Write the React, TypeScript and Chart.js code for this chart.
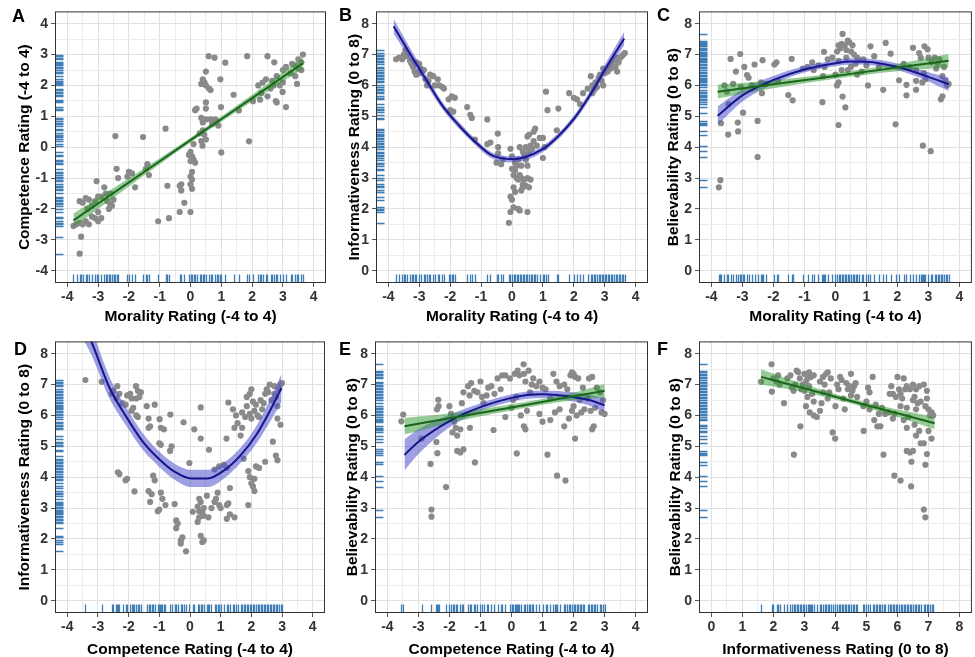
import React, { useEffect, useRef } from 'react';
import { Chart, registerables } from 'chart.js';

Chart.register(...registerables);

// ------------------------- tick labels -------------------------
const moralityTicks = [-4, -3, -2, -1, 0, 1, 2, 3, 4];
const competenceTicks = [-4, -3, -2, -1, 0, 1, 2, 3, 4];
const ratingTicks = [0, 1, 2, 3, 4, 5, 6, 7, 8];

// ------------------------- panel A: morality vs competence -------------------------
const panelAPoints: [number, number][] = [
  [3.65, 3.0], [3.5, 2.85], [3.3, 2.7], [3.1, 2.6], [3.0, 2.5], [2.72, 2.75], [2.5, 2.95], [3.6, 2.5],
  [3.5, 2.55], [3.4, 2.3], [3.46, 2.05], [3.0, 2.1], [2.99, 1.79], [3.1, 1.3], [2.8, 1.45], [2.77, 1.49],
  [2.26, 1.54], [2.03, 1.49], [2.3, 1.75], [2.5, 1.65], [2.6, 1.9], [2.7, 2.0], [2.9, 2.0], [2.34, 2.09],
  [2.2, 2.0], [2.45, 2.2], [2.65, 2.15], [2.8, 2.3], [3.25, 2.4], [3.4, 2.65], [3.6, 2.75], [1.84, 2.95],
  [1.9, 0.19], [1.4, 1.7], [1.57, 1.19], [1.13, 2.74], [0.97, 2.2], [0.99, 1.3], [1.0, -0.17], [0.59, 2.95],
  [0.78, 2.9], [0.5, 2.45], [0.45, 2.1], [0.5, 2.0], [0.35, 2.05], [0.4, 2.2], [0.6, 1.9], [0.65, 1.85],
  [0.5, 1.45], [0.5, 1.25], [0.2, 1.25], [0.15, 1.2], [0.35, 0.95], [0.4, 0.8], [0.5, 0.9], [0.65, 0.9],
  [0.7, 0.75], [0.8, 0.9], [0.85, 0.85], [0.9, 0.7], [0.4, 0.55], [0.3, 0.45], [0.45, 0.4], [0.5, 0.25],
  [0.35, 0.2], [0.39, 0.05], [0.1, 0.1], [0.0, -0.15], [-0.05, -0.25], [0.05, -0.3], [0.0, -0.45], [0.1, -0.4],
  [0.15, -0.5], [0.05, -0.8], [0.0, -0.95], [0.05, -1.05], [0.0, -1.2], [0.05, -1.35], [-0.3, -1.2], [-0.35, -1.25],
  [-0.3, -1.4], [-0.2, -1.8], [-0.35, -2.1], [0.0, -2.1], [-0.75, -1.25], [-0.7, -2.3], [-1.05, -2.4], [-0.81, 0.6],
  [-1.54, 0.33], [-2.44, 0.36], [-1.4, -0.55], [-1.45, -0.7], [-1.35, -0.9], [-1.9, -0.85], [-2.0, -0.8], [-2.05, -0.95],
  [-1.8, -1.3], [-2.4, -0.7], [-2.35, -1.0], [-2.6, -1.5], [-2.5, -1.7], [-2.6, -1.85], [-2.65, -2.0], [-2.8, -1.3],
  [-2.75, -1.5], [-2.9, -1.6], [-3.0, -1.6], [-3.05, -1.1], [-3.1, -1.75], [-3.2, -1.9], [-3.3, -1.7], [-3.4, -1.65],
  [-3.5, -1.8], [-3.6, -1.75], [-3.0, -2.1], [-3.1, -2.3], [-3.0, -2.4], [-2.9, -2.3], [-3.2, -2.25], [-3.4, -2.4],
  [-3.5, -2.5], [-3.6, -2.45], [-3.7, -2.5], [-3.8, -2.55], [-3.3, -2.5], [-3.55, -2.9], [-3.6, -3.45], [-3.35, -2.0],
  [-2.7, -1.75], [-2.55, -1.9],
];
const panelALinearX = [-3.8, -2, 0, 2, 3.65];
const panelALinearY = [-2.37, -1.14, 0.23, 1.59, 2.72];
const panelALinearLo = [-2.59, -1.27, 0.15, 1.48, 2.53];
const panelALinearHi = [-2.15, -1.01, 0.31, 1.7, 2.91];

// ------------------------- panel B: morality vs informativeness -------------------------
const panelBPoints: [number, number][] = [
  [-3.75, 6.85], [-3.65, 6.9], [-3.55, 6.85], [-3.5, 7.0], [-3.45, 7.15], [-3.4, 6.95], [-3.3, 6.8], [-3.25, 6.7],
  [-3.2, 6.6], [-3.1, 6.75], [-3.0, 6.7], [-3.15, 6.45], [-3.1, 6.35], [-3.0, 6.4], [-2.95, 6.55], [-2.85, 6.5],
  [-2.8, 6.2], [-2.7, 6.15], [-2.75, 6.0], [-2.65, 6.35], [-2.55, 6.3], [-2.5, 6.0], [-2.4, 6.2], [-2.35, 6.0],
  [-2.25, 5.95], [-2.2, 5.9], [-2.05, 5.55], [-1.95, 5.65], [-1.85, 5.6], [-2.0, 5.2], [-1.9, 5.15], [-1.45, 5.3],
  [-1.35, 5.05], [-1.3, 4.95], [-0.8, 4.9], [-0.8, 4.1], [-0.7, 4.15], [-1.2, 4.25], [-0.46, 4.44], [-0.45, 4.0],
  [-0.45, 3.8], [-0.5, 3.5], [-0.3, 3.6], [-0.35, 3.45],
  [-0.05, 3.95], [0.0, 3.7], [0.1, 3.5], [0.2, 3.6], [0.25, 4.0], [0.35, 3.85], [0.4, 3.75], [0.45, 3.6],
  [0.5, 3.4], [0.55, 3.85], [0.45, 4.0], [0.6, 4.05], [0.65, 3.95], [0.5, 4.35], [0.55, 4.4], [0.7, 4.5],
  [0.7, 4.2], [0.75, 4.6], [0.8, 4.05], [0.9, 4.3], [1.0, 4.3], [1.0, 3.65], [1.1, 5.8], [1.15, 5.2],
  [1.5, 5.25], [1.45, 4.55], [1.05, 4.0],
  [0.0, 3.3], [0.05, 3.1], [0.1, 3.25], [0.15, 3.0], [0.2, 2.95], [0.25, 3.1], [0.3, 3.0], [0.35, 2.8],
  [0.4, 2.95], [0.45, 2.75], [0.5, 3.0], [0.55, 2.7], [0.6, 2.95], [0.15, 3.4], [0.3, 3.4], [0.05, 2.7],
  [0.1, 2.55], [-0.05, 2.4], [0.0, 2.3], [0.05, 2.05], [0.2, 2.0], [0.25, 1.95], [-0.05, 1.9], [0.5, 1.9],
  [-0.1, 1.55], [0.3, 2.6], [0.35, 2.7],
  [1.85, 5.75], [2.0, 5.6], [2.1, 5.55], [2.3, 5.75], [2.2, 5.4], [2.45, 5.9], [2.55, 6.3], [2.6, 6.0],
  [2.65, 5.85], [2.7, 6.1], [2.75, 5.95], [2.8, 6.25], [2.85, 6.35], [2.9, 6.15], [2.95, 6.0], [3.0, 6.4],
  [3.05, 6.5], [3.1, 6.45], [3.15, 6.6], [3.2, 6.55], [3.25, 6.7], [3.3, 6.8], [3.35, 6.6], [3.4, 6.45],
  [3.45, 6.75], [3.5, 6.9], [3.55, 6.95], [3.6, 7.0], [3.65, 7.05], [2.7, 5.9], [2.6, 5.75], [2.95, 6.55],
  [3.35, 6.9],
];
const panelBQuadX = [-3.83, -3.35, -2.81, -2.27, -1.73, -1.2, -0.66, 0.04, 0.95, 1.48, 2.02, 2.56, 3.1, 3.63];
const panelBQuadY = [7.92, 7.11, 6.24, 5.37, 4.72, 4.18, 3.74, 3.61, 3.91, 4.34, 4.94, 5.75, 6.67, 7.52];
const panelBQuadLo = [7.68, 6.92, 6.09, 5.25, 4.61, 4.08, 3.64, 3.51, 3.81, 4.24, 4.83, 5.62, 6.5, 7.3];
const panelBQuadHi = [8.16, 7.3, 6.39, 5.49, 4.83, 4.28, 3.84, 3.71, 4.01, 4.44, 5.05, 5.88, 6.84, 7.74];

// ------------------------- panel C: morality vs believability -------------------------
const panelCPoints: [number, number][] = [
  [-3.76, 2.7], [-3.71, 2.93], [-3.69, 4.78], [-3.46, 4.41], [-3.58, 6.0], [-3.45, 5.4], [-3.38, 6.86], [-3.07, 7.02],
  [-3.21, 6.45], [-2.85, 6.34], [-2.94, 6.6], [-2.98, 5.12], [-3.15, 4.8], [-3.14, 4.51], [-2.8, 6.25], [-2.7, 6.0],
  [-2.61, 6.68], [-2.51, 4.85], [-2.51, 3.68], [-2.37, 5.75], [-2.35, 6.82], [-2.25, 6.05], [-1.97, 6.68], [-1.9, 6.75],
  [-1.85, 6.15], [-1.52, 5.69], [-1.38, 5.52], [-1.41, 6.86], [-1.05, 6.55], [-0.9, 6.6], [-0.7, 6.5], [-0.55, 6.65],
  [-0.42, 5.46], [-0.4, 6.3], [-0.37, 7.09], [-0.25, 6.85], [-0.1, 6.9], [0.05, 7.1], [0.1, 7.3], [0.15, 7.2],
  [0.2, 7.35], [0.23, 7.67], [0.3, 7.3], [0.35, 7.15], [0.4, 7.45], [0.45, 7.4], [0.5, 7.1], [0.55, 7.3],
  [0.6, 7.0], [0.7, 6.9], [0.65, 6.7], [0.35, 6.9], [0.1, 6.8], [0.2, 6.5], [0.0, 6.35], [0.05, 6.0],
  [0.1, 6.1], [0.1, 4.72], [0.23, 5.64], [0.32, 5.29], [0.4, 6.5], [0.75, 6.85], [0.9, 6.85], [1.0, 6.65],
  [1.05, 6.0], [1.13, 7.27], [1.25, 6.95], [1.4, 6.6], [1.62, 7.38], [1.54, 5.86], [1.78, 7.03], [1.94, 4.74],
  [2.05, 6.17], [2.2, 6.7], [2.29, 5.68], [2.29, 6.02], [2.5, 7.22], [2.6, 6.15], [2.6, 5.86], [2.7, 7.05],
  [2.75, 6.9], [2.82, 4.05], [2.85, 6.4], [2.87, 7.27], [2.97, 7.17], [3.07, 3.87], [3.0, 6.9], [3.1, 6.75],
  [3.2, 6.9], [3.25, 6.55], [3.3, 6.7], [3.35, 6.85], [3.45, 6.3], [3.5, 6.6], [3.55, 6.15], [3.4, 5.55],
  [3.45, 5.65], [3.6, 6.0], [3.65, 6.05], [2.8, 6.1], [2.9, 6.2], [2.6, 6.5], [2.4, 6.6], [-0.75, 6.75],
  [-0.35, 6.6], [0.5, 6.6], [0.7, 6.35], [0.85, 6.45], [-3.5, 5.8], [-3.3, 6.05], [-3.05, 5.95], [-2.4, 6.1],
];
const panelCLinearX = [-3.8, -2, 0, 2, 3.65];
const panelCLinearY = [5.8, 6.04, 6.31, 6.58, 6.8];
const panelCLinearLo = [5.58, 5.91, 6.22, 6.46, 6.58];
const panelCLinearHi = [6.02, 6.17, 6.4, 6.7, 7.02];
const panelCQuadX = [-3.8, -3, -2, -1, 0, 0.5, 1, 2, 3, 3.65];
const panelCQuadY = [5.02, 5.68, 6.18, 6.52, 6.72, 6.78, 6.77, 6.6, 6.28, 6.04];
const panelCQuadLo = [4.72, 5.48, 6.05, 6.42, 6.62, 6.68, 6.67, 6.49, 6.13, 5.82];
const panelCQuadHi = [5.32, 5.88, 6.31, 6.62, 6.82, 6.88, 6.87, 6.71, 6.43, 6.26];

// ------------------------- panel D: competence vs informativeness -------------------------
const panelDPoints: [number, number][] = [
  [-3.41, 7.15], [-2.88, 7.09], [-2.5, 6.8], [-2.37, 6.95], [-2.55, 6.7], [-2.4, 6.55], [-2.3, 6.7], [-2.2, 6.4],
  [-2.1, 6.35], [-2.05, 6.65], [-1.95, 6.7], [-1.9, 6.55], [-1.76, 6.95], [-1.7, 6.8], [-1.6, 6.75], [-1.75, 6.55],
  [-1.65, 6.6], [-1.85, 6.25], [-1.75, 6.0], [-1.7, 5.95], [-1.9, 6.15], [-2.35, 4.16], [-2.3, 4.1], [-2.05, 3.95],
  [-2.1, 3.9], [-1.81, 3.54], [-1.41, 6.3], [-1.35, 5.9], [-1.3, 5.65], [-1.35, 5.6], [-1.15, 6.35], [-0.99, 5.88],
  [-0.95, 5.6], [-0.85, 5.55], [-0.64, 6.03], [-1.0, 5.1], [-0.95, 5.05], [-0.6, 5.0], [-0.65, 4.85], [-1.35, 3.55],
  [-1.3, 3.2], [-1.25, 3.45], [-1.2, 4.05], [-1.15, 3.9], [-0.95, 3.5], [-0.9, 3.3], [-0.8, 3.1], [-1.0, 2.95],
  [-1.05, 2.9], [-0.5, 3.13], [-0.4, 2.5], [-0.45, 2.35], [-0.45, 2.6], [-0.3, 1.95], [-0.25, 2.05], [-0.3, 1.85],
  [-0.13, 1.6], [-0.21, 5.78], [-0.02, 4.46], [0.09, 2.88], [0.14, 5.55], [0.35, 5.25], [0.35, 6.26], [0.3, 3.3],
  [0.35, 3.2], [0.25, 3.05], [0.3, 2.9], [0.4, 2.85], [0.45, 2.75], [0.3, 2.7], [0.25, 2.55], [0.45, 3.0],
  [0.35, 2.1], [0.45, 1.95], [0.4, 1.9], [0.62, 4.89], [0.55, 3.4], [0.7, 3.0], [0.6, 2.7], [0.8, 3.2],
  [0.9, 3.5], [0.95, 3.1], [1.0, 3.0], [0.85, 3.3], [0.8, 4.25], [0.95, 4.35], [1.1, 4.4], [1.2, 4.3],
  [1.19, 5.25], [1.25, 6.42], [1.3, 3.65], [1.25, 3.15], [1.2, 3.1], [1.3, 2.8], [1.2, 2.65], [1.45, 2.7],
  [1.4, 6.2], [1.5, 6.0], [1.45, 5.6], [1.55, 5.75], [1.65, 5.35], [1.7, 5.6], [1.7, 6.1], [1.8, 5.95],
  [1.85, 6.3], [1.85, 6.6], [1.95, 6.7], [2.0, 6.85], [2.05, 6.45], [1.95, 6.05], [2.0, 5.9], [2.1, 6.15],
  [2.15, 6.35], [2.2, 6.0], [2.25, 5.95], [2.3, 6.5], [2.4, 6.4], [2.35, 6.2], [2.45, 6.7], [2.5, 6.85],
  [2.55, 6.75], [2.6, 7.0], [2.65, 6.5], [2.75, 6.7], [2.8, 6.6], [2.85, 6.3], [2.95, 7.0], [3.0, 7.05],
  [2.9, 6.85], [2.75, 6.95], [1.75, 4.6], [1.9, 4.2], [1.95, 4.0], [2.0, 3.8], [2.05, 3.7], [2.1, 3.55],
  [2.1, 3.95], [1.9, 3.1], [2.15, 4.35], [2.25, 4.3], [2.45, 4.5], [2.7, 5.15], [2.8, 4.7], [2.85, 4.55],
  [2.95, 5.7], [2.85, 5.9],
];
const panelDQuadX = [-3.44, -3.21, -2.62, -2.09, -1.56, -1.02, -0.49, 0.04, 0.58, 1.11, 1.64, 2.18, 2.6, 2.98];
const panelDQuadY = [8.85, 8.38, 6.89, 5.98, 5.18, 4.6, 4.17, 3.96, 3.96, 4.22, 4.7, 5.4, 6.14, 6.89];
const panelDQuadLo = [8.4, 7.96, 6.54, 5.68, 4.91, 4.35, 3.91, 3.68, 3.68, 3.96, 4.45, 5.12, 5.78, 6.44];
const panelDQuadHi = [9.3, 8.8, 7.24, 6.28, 5.45, 4.85, 4.43, 4.24, 4.24, 4.48, 4.95, 5.68, 6.5, 7.34];

// ------------------------- panel E: competence vs believability -------------------------
const panelEPoints: [number, number][] = [
  [-3.49, 6.03], [-3.55, 5.81], [-2.61, 4.43], [-2.58, 2.95], [-2.58, 2.72], [-2.36, 6.51], [-2.35, 6.3], [-2.4, 6.2],
  [-2.42, 5.14], [-2.39, 4.78], [-2.11, 3.68], [-2.0, 6.3], [-1.95, 6.05], [-1.85, 5.8], [-1.8, 5.6], [-1.9, 5.45],
  [-1.75, 5.35], [-1.65, 5.55], [-1.75, 4.85], [-1.65, 4.8], [-1.55, 4.9], [-1.6, 6.4], [-1.55, 6.75], [-1.4, 6.95],
  [-1.3, 7.05], [-1.35, 6.65], [-1.2, 6.8], [-1.1, 6.75], [-1.0, 7.1], [-0.95, 6.6], [-0.8, 6.65], [-0.75, 6.9],
  [-0.65, 6.95], [-0.55, 6.7], [-0.45, 7.2], [-0.3, 7.3], [-0.2, 7.3], [-0.05, 7.2], [0.1, 7.35], [0.2, 7.45],
  [0.25, 7.3], [0.39, 7.66], [0.4, 7.35], [0.45, 7.1], [0.55, 7.45], [0.65, 7.0], [0.7, 7.2], [0.8, 6.95],
  [0.9, 7.1], [1.0, 6.9], [1.1, 6.85], [-1.34, 5.6], [-1.18, 4.48], [-0.58, 5.53], [-0.2, 5.95], [0.0, 6.25],
  [0.05, 6.5], [0.3, 6.0], [0.4, 5.65], [0.45, 5.55], [0.5, 6.15], [0.17, 4.77], [1.16, 4.73], [1.25, 5.85],
  [1.4, 6.1], [1.55, 6.2], [1.35, 7.35], [1.45, 7.1], [1.55, 6.95], [1.7, 7.0], [1.8, 6.85], [1.47, 4.05],
  [1.74, 3.89], [1.7, 5.65], [1.85, 5.9], [1.95, 6.15], [2.0, 6.3], [2.05, 5.25], [2.1, 6.0], [2.2, 6.5],
  [2.25, 6.1], [2.35, 6.2], [2.45, 6.55], [2.55, 6.15], [2.6, 5.55], [2.65, 5.65], [2.7, 6.25], [1.9, 7.3],
  [1.95, 7.4], [2.0, 7.35], [2.05, 7.25], [2.15, 7.2], [2.3, 6.9], [2.5, 7.2], [2.6, 7.25], [2.75, 6.9],
  [2.85, 6.75], [2.95, 6.5], [3.0, 6.05], [2.9, 6.1], [1.0, 5.8], [0.9, 6.05], [-2.9, 5.25], [-0.9, 6.4],
  [0.15, 6.6], [0.6, 6.75], [1.25, 6.55], [-0.35, 6.85],
];
const panelELinearX = [-3.45, -2, 0, 2, 3.0];
const panelELinearY = [5.65, 5.91, 6.26, 6.62, 6.8];
const panelELinearLo = [5.38, 5.76, 6.16, 6.5, 6.58];
const panelELinearHi = [5.92, 6.06, 6.36, 6.74, 7.02];
const panelEQuadX = [-3.45, -3, -2, -1, 0, 0.5, 1, 2, 2.5, 3];
const panelEQuadY = [4.72, 5.15, 5.82, 6.27, 6.57, 6.66, 6.69, 6.6, 6.5, 6.33];
const panelEQuadLo = [4.22, 4.75, 5.62, 6.14, 6.45, 6.54, 6.57, 6.45, 6.32, 6.11];
const panelEQuadHi = [5.22, 5.55, 6.02, 6.4, 6.69, 6.78, 6.81, 6.75, 6.68, 6.55];

// ------------------------- panel F: informativeness vs believability -------------------------
const panelFPoints: [number, number][] = [
  [1.6, 7.09], [1.94, 7.66], [1.95, 6.77], [2.0, 7.2], [2.1, 7.1], [2.15, 7.3], [2.2, 7.0], [2.34, 6.4],
  [2.66, 4.73], [2.55, 7.3], [2.65, 6.8], [2.7, 7.0], [2.75, 7.45], [2.8, 7.4], [2.85, 7.2], [2.9, 6.85],
  [2.95, 7.0], [2.87, 5.65], [3.0, 7.35], [3.05, 7.1], [3.1, 7.2], [3.15, 7.4], [3.2, 7.25], [3.3, 7.3],
  [3.0, 6.8], [3.1, 6.6], [3.05, 6.3], [3.15, 6.95], [3.25, 6.7], [3.3, 6.45], [3.17, 6.1], [3.3, 6.0],
  [3.4, 5.95], [3.5, 6.15], [3.55, 6.4], [3.6, 6.75], [3.5, 7.1], [3.65, 7.0], [3.7, 7.35], [3.75, 7.4],
  [3.85, 7.2], [3.75, 6.55], [3.8, 6.75], [3.91, 5.45], [3.99, 5.25], [4.0, 6.3], [4.05, 7.0], [4.1, 6.85],
  [4.2, 7.15], [4.25, 6.55], [4.3, 6.2], [4.35, 7.05], [4.4, 6.85], [4.5, 7.35], [4.5, 6.65], [4.6, 6.95],
  [4.65, 7.05], [4.55, 6.8], [4.7, 6.6], [4.91, 5.5], [4.9, 6.3], [5.0, 6.45], [5.05, 6.9], [5.1, 6.75],
  [5.1, 6.2], [5.2, 7.25], [5.25, 5.85], [5.35, 5.65], [5.4, 6.05], [5.45, 5.65], [5.3, 6.35], [5.5, 6.25],
  [5.55, 4.73], [5.6, 6.05], [5.7, 6.1], [5.75, 6.7], [5.8, 6.95], [5.85, 6.7], [5.85, 5.9], [5.9, 6.05],
  [5.9, 4.05], [6.1, 3.89], [6.0, 7.25], [6.05, 6.85], [6.1, 6.3], [6.1, 6.7], [6.15, 6.55], [6.2, 7.2],
  [6.25, 6.85], [6.3, 6.25], [6.35, 5.95], [6.3, 5.6], [6.2, 5.85], [6.3, 4.85], [6.4, 4.8], [6.5, 4.85],
  [6.45, 4.5], [6.44, 3.7], [6.4, 6.85], [6.5, 6.5], [6.55, 6.6], [6.6, 6.2], [6.65, 6.4], [6.7, 6.95],
  [6.55, 5.7], [6.6, 5.35], [6.7, 5.5], [6.75, 5.1], [6.85, 5.1], [6.85, 7.0], [6.9, 6.3], [6.95, 6.8],
  [6.95, 6.55], [7.0, 6.2], [7.0, 5.5], [6.95, 4.75], [6.9, 4.4], [6.85, 2.95], [6.9, 2.7], [7.05, 6.0],
  [7.1, 5.25], [7.15, 6.0], [7.1, 6.1], [2.45, 7.2], [2.6, 6.9], [3.6, 7.25], [4.15, 7.25], [4.45, 6.95],
  [5.95, 6.6], [6.3, 6.95], [6.6, 6.85], [6.75, 6.45], [6.5, 7.0],
];
const panelFLinearX = [1.6, 3, 4.5, 6, 7.2];
const panelFLinearY = [7.25, 6.88, 6.47, 6.07, 5.75];
const panelFLinearLo = [7.0, 6.75, 6.39, 5.95, 5.55];
const panelFLinearHi = [7.5, 7.01, 6.55, 6.19, 5.95];

// ------------------------- styling -------------------------
const FONT = "'Liberation Sans', Arial, Helvetica, sans-serif";
const POINT_COLOR = '#8a8a8a';
const GREEN_LINE = '#1b661b';
const GREEN_BAND = 'rgba(46, 150, 46, 0.5)';
const BLUE_LINE = '#16168a';
const BLUE_BAND = 'rgba(80, 80, 205, 0.55)';
const RUG_COLOR = '#3f7db6';
const MAJOR_GRID = '#e0e0e0';
const MINOR_GRID = '#ececec';

type Fit = { x: number[]; y: number[]; lo: number[]; hi: number[]; line: string; band: string };
type PanelSpec = {
  letter: string;
  letterPos: [number, number];
  canvas: [number, number, number, number]; // left, top, width, height
  plot: [number, number, number, number]; // left, top, right, bottom
  xRange: [number, number];
  yRange: [number, number];
  xTicks: number[];
  yTicks: number[];
  xTitle: string;
  yTitle: string;
  xTitlePad: number;
  yTitlePad: number;
  points: [number, number][];
  fits: Fit[];
};

const panels: PanelSpec[] = [
  {
    letter: 'A', letterPos: [12, 7], canvas: [0, 0, 330, 330], plot: [55, 9, 326, 283],
    xRange: [-4.4, 4.4], yRange: [-4.4, 4.4], xTicks: moralityTicks, yTicks: competenceTicks,
    xTitle: 'Morality Rating (-4 to 4)', yTitle: 'Competence Rating (-4 to 4)', xTitlePad: 4, yTitlePad: 15,
    points: panelAPoints,
    fits: [{ x: panelALinearX, y: panelALinearY, lo: panelALinearLo, hi: panelALinearHi, line: GREEN_LINE, band: GREEN_BAND }],
  },
  {
    letter: 'B', letterPos: [339, 6], canvas: [330, 0, 322, 330], plot: [376, 9, 648, 283],
    xRange: [-4.4, 4.4], yRange: [-0.4, 8.4], xTicks: moralityTicks, yTicks: ratingTicks,
    xTitle: 'Morality Rating (-4 to 4)', yTitle: 'Informativeness Rating (0 to 8)', xTitlePad: 4, yTitlePad: 15,
    points: panelBPoints,
    fits: [{ x: panelBQuadX, y: panelBQuadY, lo: panelBQuadLo, hi: panelBQuadHi, line: BLUE_LINE, band: BLUE_BAND }],
  },
  {
    letter: 'C', letterPos: [657, 6], canvas: [652, 0, 323, 330], plot: [699, 9, 972, 283],
    xRange: [-4.4, 4.4], yRange: [-0.4, 8.4], xTicks: moralityTicks, yTicks: ratingTicks,
    xTitle: 'Morality Rating (-4 to 4)', yTitle: 'Believability Rating (0 to 8)', xTitlePad: 4, yTitlePad: 12,
    points: panelCPoints,
    fits: [
      { x: panelCLinearX, y: panelCLinearY, lo: panelCLinearLo, hi: panelCLinearHi, line: GREEN_LINE, band: GREEN_BAND },
      { x: panelCQuadX, y: panelCQuadY, lo: panelCQuadLo, hi: panelCQuadHi, line: BLUE_LINE, band: BLUE_BAND },
    ],
  },
  {
    letter: 'D', letterPos: [14, 340], canvas: [0, 330, 330, 340], plot: [55, 340, 325, 613],
    xRange: [-4.4, 4.4], yRange: [-0.4, 8.4], xTicks: competenceTicks, yTicks: ratingTicks,
    xTitle: 'Competence Rating (-4 to 4)', yTitle: 'Informativeness Rating (0 to 8)', xTitlePad: 10.5, yTitlePad: 15,
    points: panelDPoints,
    fits: [{ x: panelDQuadX, y: panelDQuadY, lo: panelDQuadLo, hi: panelDQuadHi, line: BLUE_LINE, band: BLUE_BAND }],
  },
  {
    letter: 'E', letterPos: [339, 340], canvas: [330, 330, 322, 340], plot: [375, 340, 648, 613],
    xRange: [-4.4, 4.4], yRange: [-0.4, 8.4], xTicks: competenceTicks, yTicks: ratingTicks,
    xTitle: 'Competence Rating (-4 to 4)', yTitle: 'Believability Rating (0 to 8)', xTitlePad: 10.5, yTitlePad: 13,
    points: panelEPoints,
    fits: [
      { x: panelELinearX, y: panelELinearY, lo: panelELinearLo, hi: panelELinearHi, line: GREEN_LINE, band: GREEN_BAND },
      { x: panelEQuadX, y: panelEQuadY, lo: panelEQuadLo, hi: panelEQuadHi, line: BLUE_LINE, band: BLUE_BAND },
    ],
  },
  {
    letter: 'F', letterPos: [657, 340], canvas: [652, 330, 323, 340], plot: [699, 340, 972, 613],
    xRange: [-0.4, 8.4], yRange: [-0.4, 8.4], xTicks: ratingTicks, yTicks: ratingTicks,
    xTitle: 'Informativeness Rating (0 to 8)', yTitle: 'Believability Rating (0 to 8)', xTitlePad: 10.5, yTitlePad: 14,
    points: panelFPoints,
    fits: [{ x: panelFLinearX, y: panelFLinearY, lo: panelFLinearLo, hi: panelFLinearHi, line: GREEN_LINE, band: GREEN_BAND }],
  },
];

// add minor (half-step) gridline positions between the labelled ticks
function withMinor(ticks: number[]): number[] {
  const out: number[] = [];
  ticks.forEach((t, i) => {
    out.push(t);
    if (i < ticks.length - 1) out.push((t + ticks[i + 1]) / 2);
  });
  return out;
}

function makeRugPlugin(xs: number[], ys: number[]) {
  return {
    id: 'rugAndBorder',
    afterDatasetsDraw(chart: any) {
      const { ctx, chartArea, scales } = chart;
      const { left, right, top, bottom } = chartArea;
      const len = 8.5;
      ctx.save();
      ctx.strokeStyle = RUG_COLOR;
      ctx.lineWidth = 1.3;
      ctx.beginPath();
      for (const v of xs) {
        const px = Math.round(scales.x.getPixelForValue(v)) + 0.5;
        ctx.moveTo(px, bottom);
        ctx.lineTo(px, bottom - len);
      }
      for (const v of ys) {
        const py = Math.round(scales.y.getPixelForValue(v)) + 0.5;
        ctx.moveTo(left, py);
        ctx.lineTo(left + len, py);
      }
      ctx.stroke();
      ctx.strokeStyle = '#333333';
      ctx.lineWidth = 1;
      ctx.strokeRect(left + 0.5, top + 0.5, right - left - 1, bottom - top - 1);
      ctx.restore();
    },
  };
}

function axisOptions(range: [number, number], ticks: number[], title: string, isX: boolean, size: number, titlePad: number) {
  const all = withMinor(ticks);
  return {
    type: 'linear',
    position: isX ? 'bottom' : 'left',
    min: range[0],
    max: range[1],
    afterBuildTicks: (scale: any) => {
      scale.ticks = all.map((v) => ({ value: v }));
    },
    afterFit: (scale: any) => {
      if (isX) scale.height = size;
      else scale.width = size;
    },
    border: { display: false },
    grid: {
      color: (c: any) => (c.tick && Number.isInteger(c.tick.value) ? MAJOR_GRID : MINOR_GRID),
      lineWidth: 1,
      drawTicks: true,
      tickLength: 4,
      tickColor: (c: any) => (c.tick && Number.isInteger(c.tick.value) ? '#555555' : 'rgba(0,0,0,0)'),
    },
    ticks: {
      autoSkip: false,
      maxRotation: 0,
      minRotation: 0,
      padding: isX ? 2 : 3,
      color: '#333333',
      font: { family: FONT, size: 14, weight: 'bold' },
      callback: (v: number) => (Number.isInteger(v) ? String(v) : ''),
    },
    title: {
      display: true,
      text: title,
      color: '#000000',
      font: { family: FONT, size: 15.5, weight: 'bold', lineHeight: 1.2 },
      padding: isX ? { top: 0, bottom: titlePad } : { top: titlePad, bottom: 0 },
    },
  };
}

function buildConfig(p: PanelSpec): any {
  const [cl, ct, cw, ch] = p.canvas;
  const [pl, pt, pr, pb] = p.plot;
  const datasets: any[] = [
    {
      type: 'scatter',
      data: p.points.map(([x, y]) => ({ x, y })),
      backgroundColor: POINT_COLOR,
      borderColor: POINT_COLOR,
      borderWidth: 0,
      pointRadius: 3.1,
      pointHoverRadius: 3.1,
      order: 3,
    },
  ];
  for (const f of p.fits) {
    datasets.push({
      type: 'line',
      data: f.x.map((x, i) => ({ x, y: f.lo[i] })),
      borderColor: 'rgba(0,0,0,0)',
      borderWidth: 0,
      pointRadius: 0,
      fill: false,
      cubicInterpolationMode: 'monotone',
      clip: 0,
      order: 2,
    });
    datasets.push({
      type: 'line',
      data: f.x.map((x, i) => ({ x, y: f.hi[i] })),
      borderColor: 'rgba(0,0,0,0)',
      borderWidth: 0,
      pointRadius: 0,
      fill: '-1',
      backgroundColor: f.band,
      cubicInterpolationMode: 'monotone',
      clip: 0,
      order: 2,
    });
    datasets.push({
      type: 'line',
      data: f.x.map((x, i) => ({ x, y: f.y[i] })),
      borderColor: f.line,
      borderWidth: 2,
      pointRadius: 0,
      fill: false,
      cubicInterpolationMode: 'monotone',
      clip: 0,
      order: 1,
    });
  }
  return {
    type: 'scatter',
    data: { datasets },
    options: {
      responsive: false,
      maintainAspectRatio: false,
      animation: false,
      devicePixelRatio: 1,
      events: [],
      layout: { padding: { top: pt - ct, right: cl + cw - pr, bottom: 0, left: 0 } },
      plugins: { legend: { display: false }, tooltip: { enabled: false } },
      scales: {
        x: axisOptions(p.xRange, p.xTicks, p.xTitle, true, ct + ch - pb, p.xTitlePad),
        y: axisOptions(p.yRange, p.yTicks, p.yTitle, false, pl - cl, p.yTitlePad),
      },
    },
    plugins: [makeRugPlugin(p.points.map((q) => q[0]), p.points.map((q) => q[1]))],
  };
}

function Panel({ spec }: { spec: PanelSpec }) {
  const ref = useRef<HTMLCanvasElement>(null);
  useEffect(() => {
    if (!ref.current) return;
    const chart = new Chart(ref.current, buildConfig(spec));
    return () => chart.destroy();
  }, [spec]);
  const [cl, ct, cw, ch] = spec.canvas;
  return (
    <>
      <canvas
        ref={ref}
        width={cw}
        height={ch}
        style={{ position: 'absolute', left: cl, top: ct, width: cw, height: ch, display: 'block' }}
      />
      <div
        style={{
          position: 'absolute',
          left: spec.letterPos[0],
          top: spec.letterPos[1],
          fontFamily: FONT,
          fontWeight: 'bold',
          fontSize: 18,
          lineHeight: '18px',
          color: '#000',
        }}
      >
        {spec.letter}
      </div>
    </>
  );
}

export default function App() {
  return (
    <div
      style={{
        position: 'absolute',
        left: 0,
        top: 0,
        width: 975,
        height: 657,
        overflow: 'hidden',
        background: '#ffffff',
      }}
    >
      {panels.map((p) => (
        <Panel key={p.letter} spec={p} />
      ))}
    </div>
  );
}
